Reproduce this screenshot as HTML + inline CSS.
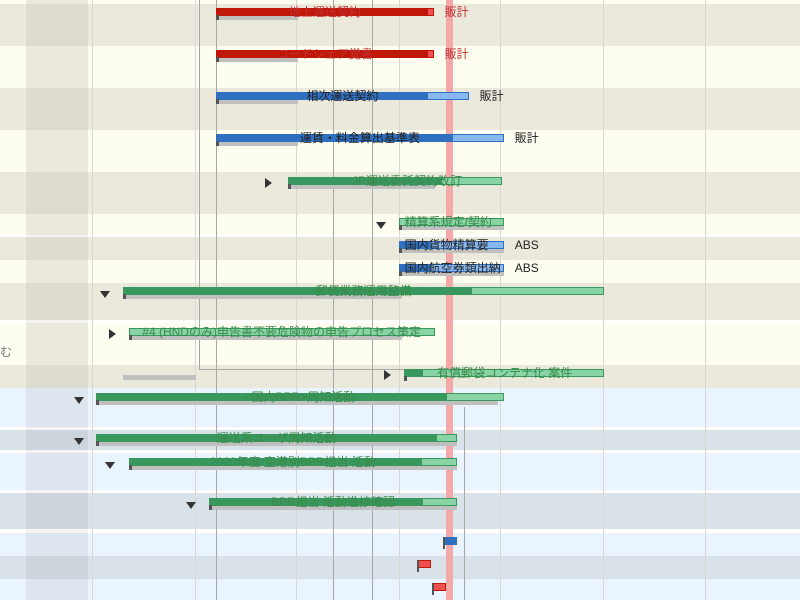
<!DOCTYPE html>
<html><head><meta charset="utf-8">
<style>
body{margin:0;width:800px;height:600px;overflow:hidden;position:relative;font-family:"Liberation Sans","Noto Sans CJK JP",sans-serif;background:#fefef0}
div{position:absolute;box-sizing:border-box}
.lbl{font-size:12px;white-space:nowrap;line-height:14px}
.tri{width:0;height:0}
</style></head><body>
<div id="chart" style="left:0;top:0;width:800px;height:600px"></div>
<script>
// ---- data ----
const taskNames=["地上運送契約","コードシェア覚書","相次運送契約","運賃・料金算出基準表","JP運送委託契約改訂","精算系規定/契約","国内貨物精算要","国内航空券類出納","郵便業務運用整備","#4 (HNDのみ)申告書不要危険物の申告プロセス策定","有償郵袋コンテナ化 案件","<国内BPR>周知活動","運送系ユーザ周知活動","2020年度 空港別BPR担当 活動","BPR担当 活動進捗確認"];
const taskStart=[8.5,8.5,8.5,8.5,13.4,21.0,21.0,21.0,2.1,2.5,21.4,0.3,0.3,2.5,8.0];
const taskEnd=[23.4,23.4,25.8,28.2,28.1,28.2,28.2,28.2,35.1,23.5,35.1,28.2,25.0,25.0,25.0];
const taskDone=[23.0,23.0,23.0,24.7,24.0,21.0,23.2,23.2,26.0,2.5,22.7,24.3,23.6,22.6,22.7];
const taskPlanEnd=[14.1,14.1,14.1,14.1,23.5,28.2,28.2,28.2,21.2,21.2,null,27.8,25.0,25.0,25.0];
const taskColor=["red","red","blue","blue","green","green","blue","blue","green","green","green","green","green","green","green"];
const taskSide=["販計","販計","販計","販計","","","ABS","ABS","","","","","","",""];
const milestoneDay=[24.4,22.6,23.6];
const milestoneColor=["blue","red","red"];
const todayDay=24.5;
// ---- layout ----
const rowBands=[[0,4,"#fefef0"],[4,46,"#ebe9dc"],[46,88,"#fefef0"],[88,130,"#ebe9dc"],[130,172,"#fefef0"],[172,214,"#ebe9dc"],[214,235,"#fefef0"],[235,237,"#fff"],[237,260,"#ebe9dc"],[260,283,"#fefef0"],[283,320,"#ebe9dc"],[320,323,"#fff"],[323,365,"#fefef0"],[365,388,"#ebe9dc"],[388,427,"#eaf4fe"],[427,430,"#fff"],[430,450,"#d9e1e9"],[450,453,"#fff"],[453,490,"#eaf4fe"],[490,493,"#fff"],[493,529,"#d9e1e9"],[529,533,"#fff"],[533,556,"#eaf4fe"],[556,579,"#d9e1e9"],[579,600,"#eaf4fe"]];
const taskY=[8,50,92,134,177,218,241,264,287,328,369,393,434,458,498];
const msY=[537,560,583];
const X=d=>92+d*14.6;
const C={red:["#c01808","#f05050"],blue:["#3070c0","#88b8f0"],green:["#38985e","#88d4a4"]};
const T={red:"#c03030",blue:"#222",green:"#3a8a4a"};
const ch=document.getElementById('chart');
function add(css,name,inter){const d=document.createElement('div');d.style.cssText=css;


ch.appendChild(d);return d;}
rowBands.forEach((b,i)=>{add(`left:0;top:${b[0]}px;width:800px;height:${b[1]-b[0]}px;background:${b[2]}`,'row-band',false);
const dk=b[2]=="#fff"?"#f4f4f4":(b[2]=="#ebe9dc"?"#dedcd0":b[2]=="#d9e1e9"?"#ccd4dc":b[2]=="#eaf4fe"?"#dde6ee":"#ebe9dc");
add(`left:26px;top:${b[0]}px;width:62px;height:${b[1]-b[0]}px;background:${dk}`,'left-column',false);});
[92,195,296,399,500,603,705].forEach(x=>add(`left:${x}px;top:0;width:1px;height:600px;background:#d8d8d0`,'grid-line',false));
[216,333,372].forEach(x=>add(`left:${x}px;top:0;width:1px;height:600px;background:#a8a8a8`,'marker-line',false));
add(`left:199px;top:0;width:1px;height:370px;background:#a8a8a8`,'dependency-line',false);
add(`left:199px;top:369px;width:205px;height:1px;background:#a8a8a8`,'dependency-line',false);
add(`left:464px;top:407px;width:1px;height:193px;background:#a8a8a8`,'dependency-line',false);
add(`left:${X(todayDay)-4}px;top:0;width:7px;height:600px;background:#f4a8a8`,'today-line',false);
add(`left:123px;top:375px;width:73px;height:5px;background:#c0c0c0`,'baseline-bar',false);
add(`left:0;top:345px;color:#777`,'left-label',false).className='lbl';
ch.lastChild.textContent='む';
taskNames.forEach((n,i)=>{const y=taskY[i],x1=X(taskStart[i]),x2=X(taskEnd[i]),xd=X(taskDone[i]),c=C[taskColor[i]];
if(taskPlanEnd[i]!=null)add(`left:${x1}px;top:${y+7}px;width:${X(taskPlanEnd[i])-x1}px;height:5px;background:#c0c0c0`,'baseline-bar',false);
add(`left:${x1}px;top:${y}px;width:${x2-x1}px;height:8px;background:${c[1]};border:1px solid ${c[0]}`,'task-bar',true);
add(`left:${x1}px;top:${y}px;width:${xd-x1}px;height:8px;background:${c[0]}`,'task-progress',false);
add(`left:${x1}px;top:${y+7}px;width:3px;height:5px;background:#555`,'task-start-marker',false);
const l=add(`left:0px;top:${y-3}px;color:${T[taskColor[i]]}`,'task-label',false);l.className='lbl';l.textContent=n;
const w=l.offsetWidth;
l.style.left=(i>=5&&i<=7?x1+6:(x1+x2)/2-w/2+(i==4?12:0))+'px';
if(taskSide[i]){const s=add(`left:${x2+11}px;top:${y-3}px;color:${taskColor[i]=="red"?"#c03030":"#222"}`,'task-side-label',false);s.className='lbl';s.textContent=taskSide[i];}
});
[[268,183,'r'],[381,225,'d'],[105,294,'d'],[112,334,'r'],[387,375,'r'],[79,400,'d'],[79,441,'d'],[110,465,'d'],[191,505,'d']].forEach(t=>{
const s=t[2]=='r'?`left:${t[0]-3}px;top:${t[1]-5}px;border-left:7px solid #333;border-top:5px solid transparent;border-bottom:5px solid transparent`:`left:${t[0]-5}px;top:${t[1]-3}px;border-top:7px solid #333;border-left:5px solid transparent;border-right:5px solid transparent`;
const d=add(s,'expand-toggle',true);d.className='tri';});
milestoneDay.forEach((m,i)=>{const x=X(m),c=C[milestoneColor[i]];
add(`left:${x-5}px;top:${msY[i]}px;width:14px;height:8px;background:${milestoneColor[i]=="blue"?c[0]:c[1]};border:1px solid ${c[0]}`,'milestone-flag',true);
add(`left:${x-5}px;top:${msY[i]}px;width:2px;height:12px;background:#555`,'milestone-pole',false);});
</script>
</body></html>
